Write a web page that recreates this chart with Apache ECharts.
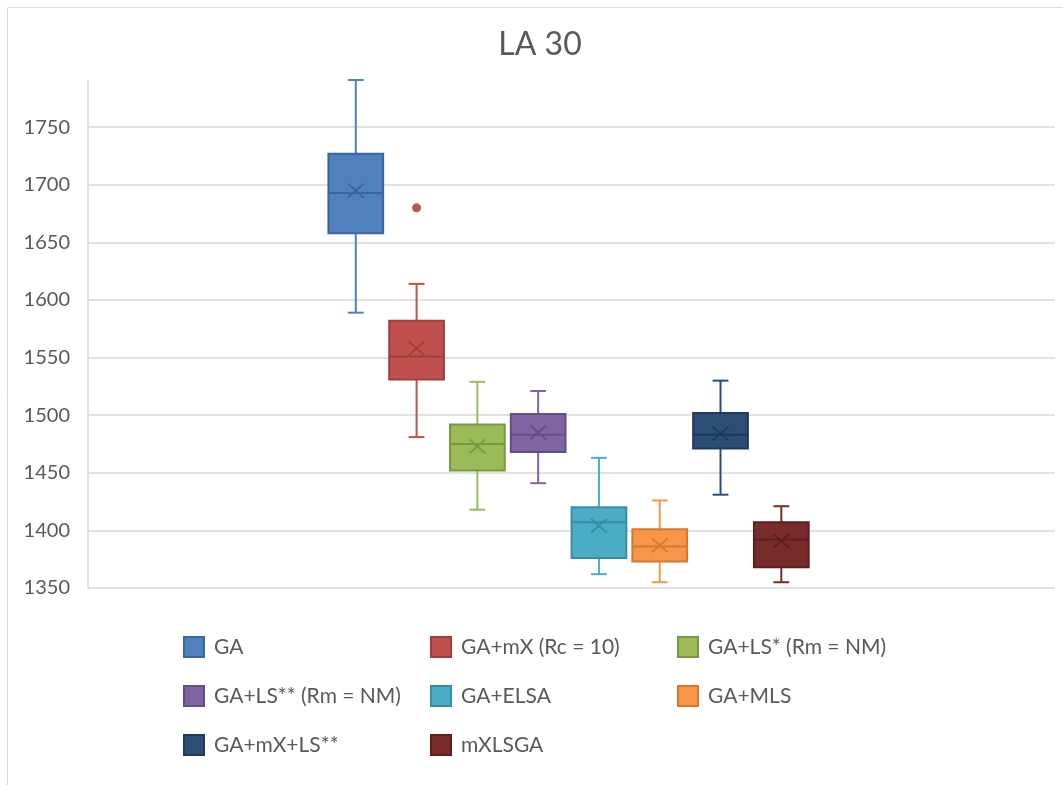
<!DOCTYPE html>
<html>
<head>
<meta charset="utf-8">
<title>LA 30</title>
<script src="https://cdn.jsdelivr.net/npm/echarts@6/dist/echarts.min.js"></script>
<style>
  html, body { margin: 0; padding: 0; background: #ffffff; }
  #chart { width: 1063px; height: 785px; }
</style>
</head>
<body>
<div id="chart"></div>
<script>
// Algorithms compared on instance LA 30
const seriesNames = ['GA', 'GA+mX (Rc = 10)', 'GA+LS* (Rm = NM)', 'GA+LS** (Rm = NM)',
                     'GA+ELSA', 'GA+MLS', 'GA+mX+LS**', 'mXLSGA'];
// Five-number summaries and means per algorithm
const whiskerLow  = [1589, 1481, 1418, 1441, 1362, 1355, 1431, 1355];
const quartile1   = [1658, 1531, 1452, 1468, 1376, 1373, 1471, 1368];
const medians     = [1693, 1551, 1475, 1483, 1407, 1386, 1483, 1392];
const quartile3   = [1727, 1582, 1492, 1501, 1420, 1401, 1502, 1407];
const whiskerHigh = [1791, 1614, 1529, 1521, 1463, 1426, 1530, 1421];
const means       = [1695, 1558, 1473, 1485, 1404, 1387, 1484, 1391];
// Outlying runs: [algorithm index, value]
const outliers = [[1, 1680]];
// Value axis
const yMin = 1350, yMax = 1791, yStep = 50;

const fills = ['#4F81BD', '#C0504D', '#9BBB59', '#8064A2', '#4BACC6', '#F79646', '#2C4D75', '#772C2A'];
const edges = ['#3B669C', '#9E3F3C', '#7A9843', '#644D86', '#358FA8', '#D27A33', '#1F3A5C', '#5A1F1E'];
const textColor = '#595959';
const gridColor = '#d9d9d9';
const fontFamily = 'Lato, "Open Sans", sans-serif';

function makeRenderer(k) {
  return function (params, api) {
    const idx = api.value(0);
    const pLow = api.coord([idx, api.value(1)]);
    const pQ1 = api.coord([idx, api.value(2)]);
    const pMed = api.coord([idx, api.value(3)]);
    const pQ3 = api.coord([idx, api.value(4)]);
    const pHigh = api.coord([idx, api.value(5)]);
    const pMean = api.coord([idx, api.value(6)]);
    const band = api.size([1, 0])[0];
    const cx = pMed[0];
    const bh = band * 0.45;
    const ch = band * 0.13;
    const mx = 8, my = 7;
    const whisk = { stroke: fills[k], lineWidth: 2 };
    const edge = { stroke: edges[k], lineWidth: 2 };
    return {
      type: 'group',
      children: [
        { type: 'line', shape: { x1: cx, y1: pQ3[1], x2: cx, y2: pHigh[1] }, style: whisk },
        { type: 'line', shape: { x1: cx, y1: pQ1[1], x2: cx, y2: pLow[1] }, style: whisk },
        { type: 'line', shape: { x1: cx - ch, y1: pHigh[1], x2: cx + ch, y2: pHigh[1] }, style: whisk },
        { type: 'line', shape: { x1: cx - ch, y1: pLow[1], x2: cx + ch, y2: pLow[1] }, style: whisk },
        { type: 'rect', shape: { x: cx - bh, y: pQ3[1], width: bh * 2, height: pQ1[1] - pQ3[1] },
          style: { fill: fills[k], stroke: edges[k], lineWidth: 2 } },
        { type: 'line', shape: { x1: cx - bh, y1: pMed[1], x2: cx + bh, y2: pMed[1] }, style: edge },
        { type: 'line', shape: { x1: cx - mx, y1: pMean[1] - my, x2: cx + mx, y2: pMean[1] + my },
          style: { stroke: edges[k], lineWidth: 1.8 } },
        { type: 'line', shape: { x1: cx - mx, y1: pMean[1] + my, x2: cx + mx, y2: pMean[1] - my },
          style: { stroke: edges[k], lineWidth: 1.8 } }
      ]
    };
  };
}

const boxSeries = seriesNames.map(function (name, k) {
  return {
    name: name,
    type: 'custom',
    xAxisIndex: 1,
    yAxisIndex: 1,
    itemStyle: { color: fills[k], borderColor: edges[k], borderWidth: 1 },
    renderItem: makeRenderer(k),
    encode: { x: 0, y: [1, 2, 3, 4, 5, 6] },
    data: [[k, whiskerLow[k], quartile1[k], medians[k], quartile3[k], whiskerHigh[k], means[k]]],
    clip: false,
    silent: true
  };
});

const outlierSeries = {
  name: 'outliers',
  type: 'scatter',
  xAxisIndex: 1,
  yAxisIndex: 1,
  symbol: 'circle',
  symbolSize: 9,
  silent: true,
  itemStyle: {
    opacity: 1,
    color: function (p) { return fills[outliers[p.dataIndex][0]]; }
  },
  data: outliers.map(function (o) { return [o[0], o[1]]; })
};

function legendColumn(names, left) {
  return {
    orient: 'vertical',
    left: left,
    top: 636,
    padding: 0,
    itemWidth: 20,
    itemHeight: 20,
    itemGap: 27,
    icon: 'rect',
    selectedMode: false,
    textStyle: { color: textColor, fontSize: 21, fontFamily: fontFamily, padding: [0, 0, 0, 5] },
    data: names
  };
}

const option = {
  animation: false,
  backgroundColor: '#ffffff',
  graphic: [
    { type: 'rect', silent: true, z: -10,
      shape: { x: 7.5, y: 7.5, width: 1100, height: 800 },
      style: { fill: 'none', stroke: gridColor, lineWidth: 1 } },
    { type: 'text', silent: true, x: 540, y: 45,
      style: { text: 'LA 30', fill: textColor, fontSize: 32, fontFamily: fontFamily,
               textAlign: 'center', textVerticalAlign: 'middle' } }
  ],
  legend: [
    legendColumn([seriesNames[0], seriesNames[3], seriesNames[6]], 183),
    legendColumn([seriesNames[1], seriesNames[4], seriesNames[7]], 430),
    legendColumn([seriesNames[2], seriesNames[5]], 677)
  ],
  grid: [
    { left: 88, right: 8, top: 80, bottom: 197 },
    { left: 325.4, width: 486.3, top: 80, bottom: 197 }
  ],
  xAxis: [
    { type: 'category', gridIndex: 0, data: [''], show: false },
    { type: 'category', gridIndex: 1, data: seriesNames, show: false, boundaryGap: true }
  ],
  yAxis: [
    {
      type: 'value', gridIndex: 0, min: yMin, max: yMax, interval: yStep,
      axisLine: { show: true, lineStyle: { color: gridColor, width: 1.5 } },
      axisTick: { show: false },
      axisLabel: {
        color: textColor, fontSize: 20, fontFamily: fontFamily, margin: 18,
        showMaxLabel: false,
        formatter: function (v) { return v % yStep === 0 ? String(v) : ''; }
      },
      splitLine: { show: true, showMaxLine: false, lineStyle: { color: gridColor, width: 1.5 } }
    },
    {
      type: 'value', gridIndex: 1, min: yMin, max: yMax, interval: yStep, show: false,
      splitLine: { show: false }
    }
  ],
  series: boxSeries.concat([outlierSeries])
};

const chart = echarts.init(document.getElementById('chart'), null, { renderer: 'canvas' });
chart.setOption(option);
</script>
</body>
</html>
